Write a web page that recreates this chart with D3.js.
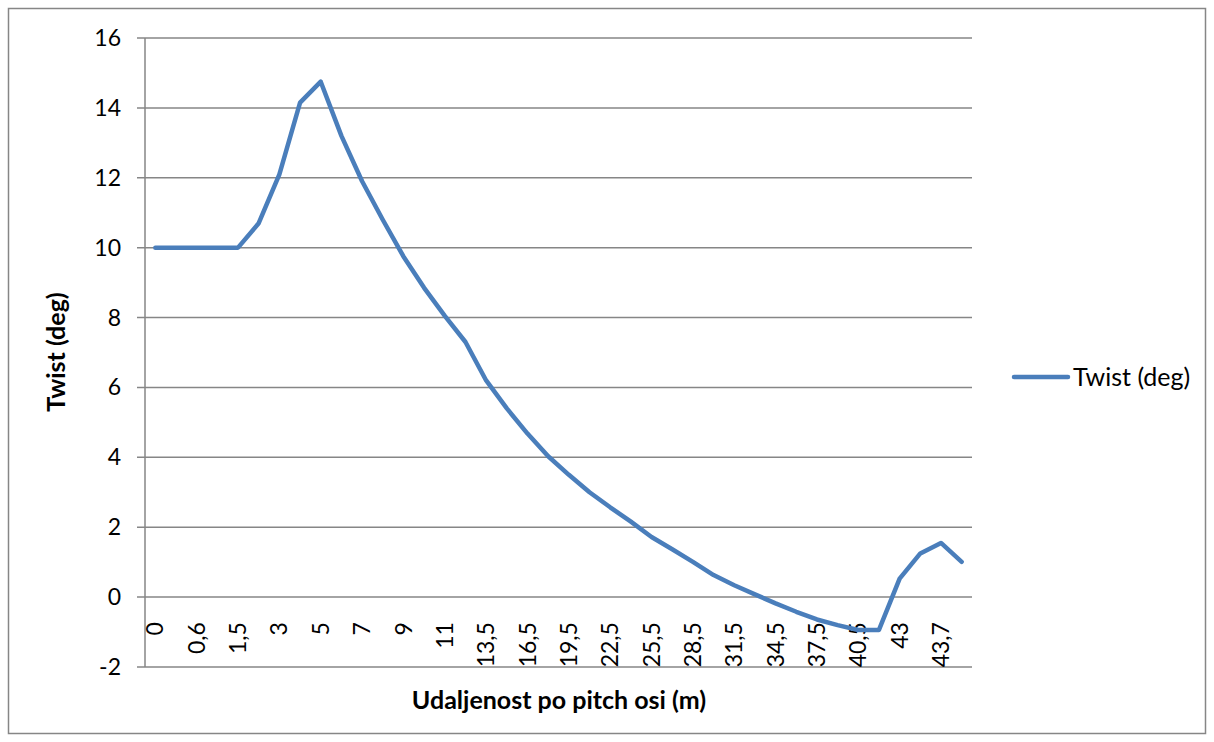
<!DOCTYPE html>
<html><head><meta charset="utf-8">
<script src="https://cdn.jsdelivr.net/npm/d3@7"></script>
<style>body{margin:0;background:#fff}svg text{font-family:Lato,"Open Sans",sans-serif;fill:#000}</style>
</head><body><svg id="c" width="1214" height="742"></svg>
<script>
const categories = ["0","0,3","0,6","1","1,5","2","3","4","5","6","7","8","9","10","11","12","13,5","15","16,5","18","19,5","21","22,5","24","25,5","27","28,5","30","31,5","33","34,5","36","37,5","39","40,5","42","43","43,4","43,7","44"];
const twist = [10,10,10,10,10,10.7,12.1,14.15,14.75,13.2,11.9,10.8,9.75,8.85,8.05,7.3,6.2,5.4,4.68,4.03,3.5,3.0,2.57,2.16,1.72,1.37,1.01,0.63,0.34,0.08,-0.18,-0.42,-0.64,-0.8,-0.94,-0.94,0.53,1.25,1.55,1.01];
const yTicks = [-2,0,2,4,6,8,10,12,14,16];
const seriesName = "Twist (deg)";
const xTitle = "Udaljenost po pitch osi (m)";
const yTitle = "Twist (deg)";

const svg = d3.select("#c");
const L=145,R=972,T=38,B=667;
const x = d3.scaleBand().domain(categories).range([L,R]);
const y = d3.scaleLinear().domain([-2,16]).range([B,T]);
const grid="#868686", blue="#4a7ebb";

svg.append("rect").attr("x",8.5).attr("y",8.5).attr("width",1197).attr("height",725).attr("fill","none").attr("stroke",grid).attr("stroke-width",1.5);

svg.append("g").selectAll("line").data(yTicks).join("line")
  .attr("x1",L-8).attr("x2",R).attr("y1",d=>y(d)).attr("y2",d=>y(d))
  .attr("stroke",grid).attr("stroke-width",1.5);
svg.append("line").attr("x1",L).attr("x2",L).attr("y1",T).attr("y2",B).attr("stroke",grid).attr("stroke-width",1.5);

svg.append("g").selectAll("text").data(yTicks).join("text")
  .attr("x",121).attr("y",d=>y(d)).attr("dy","0.35em").attr("text-anchor","end")
  .style("font-size","23px").text(d=>d);

svg.append("g").selectAll("text").data(categories.filter((d,i)=>i%2===0)).join("text")
  .attr("transform",d=>`translate(${x(d)+x.bandwidth()/2},${y(0)+25}) rotate(-90)`)
  .attr("dy","0.35em").attr("text-anchor","end").style("font-size","23px").text(d=>d);

const line = d3.line().x((d,i)=>x(categories[i])+x.bandwidth()/2).y(d=>y(d));
svg.append("path").datum(twist).attr("d",line).attr("fill","none").attr("stroke",blue)
  .attr("stroke-width",4.5).attr("stroke-linejoin","round").attr("stroke-linecap","round");

svg.append("text").attr("transform",`translate(65,352) rotate(-90)`).attr("text-anchor","middle")
  .style("font-size","25px").style("font-weight","bold").text(yTitle);
svg.append("text").attr("x",559).attr("y",709).attr("text-anchor","middle")
  .style("font-size","25px").style("font-weight","bold").text(xTitle);

svg.append("line").attr("x1",1014).attr("x2",1068).attr("y1",377).attr("y2",377).attr("stroke",blue).attr("stroke-width",4.5).attr("stroke-linecap","round");
svg.append("text").attr("x",1073).attr("y",377).attr("dy","0.35em").style("font-size","25px").text(seriesName);
</script></body></html>
